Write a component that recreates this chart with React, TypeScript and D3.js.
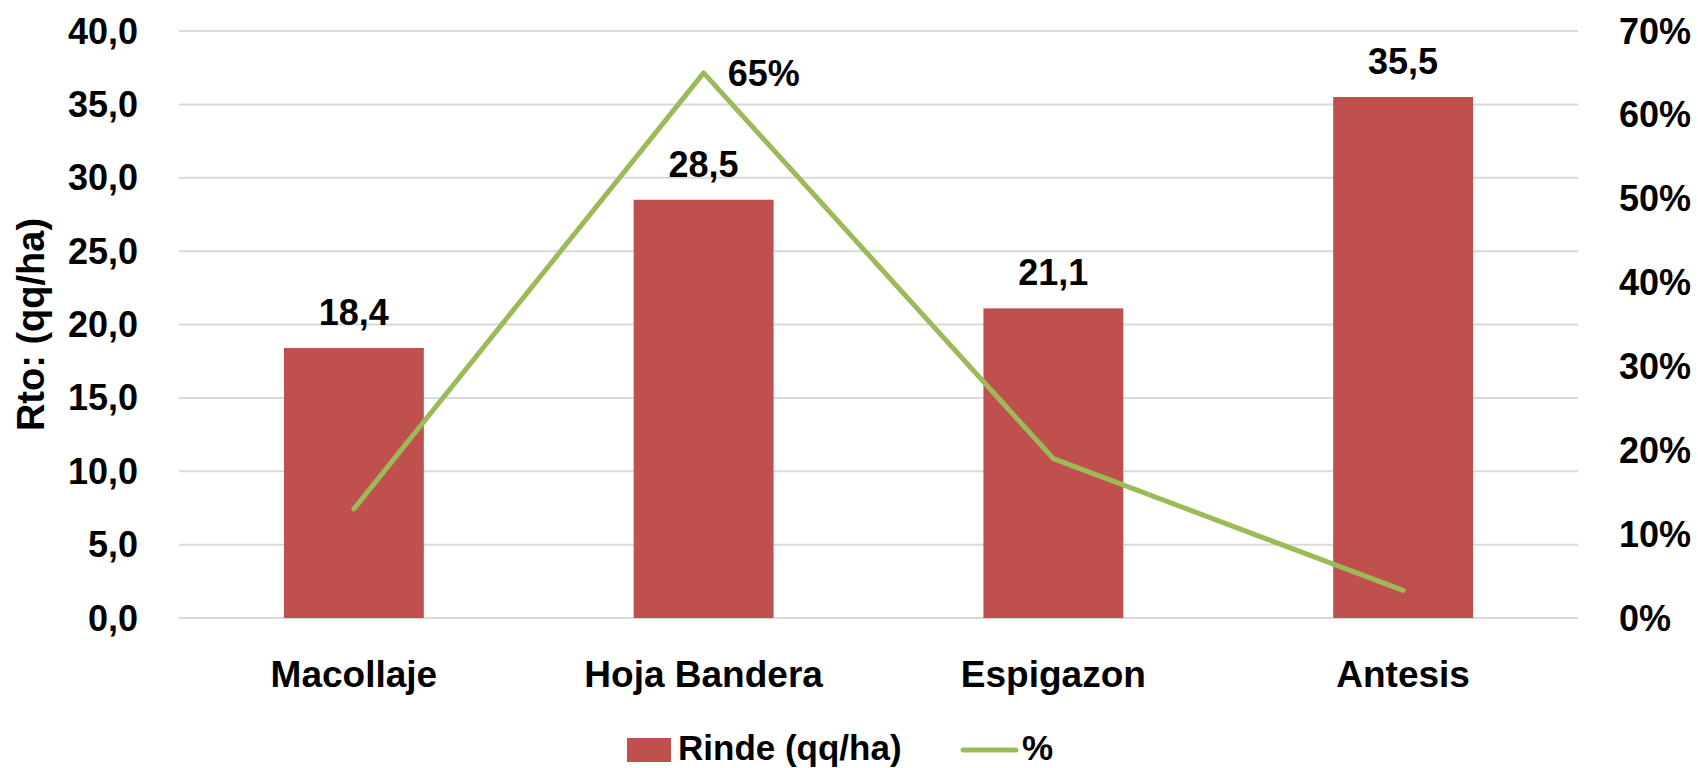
import React, { useRef, useEffect } from 'react';
import { select, scaleLinear, scaleBand, line } from "d3";

const categories = ['Macollaje', 'Hoja Bandera', 'Espigazon', 'Antesis'];
const rinde = [18.4, 28.5, 21.1, 35.5];
const pct = [13, 65, 19, 3.3];
const leftTicks = [0, 5, 10, 15, 20, 25, 30, 35, 40];
const rightTicks = [0, 10, 20, 30, 40, 50, 60, 70];

function App() {
  const rootRef = useRef<SVGSVGElement>(null);
  const width = 1698;
  const height = 768;
  const margin = ({top: 31, right: 120, bottom: 150, left: 179});
  const font = "'Liberation Sans', Arial, sans-serif";

  useEffect(() => {
    const root = select(rootRef.current);
    root.selectAll('*').remove();

    const xScale = scaleBand()
      .domain(categories)
      .range([margin.left, width - margin.right])
      .paddingInner(0.6)
      .paddingOuter(0.3);

    const yScale = scaleLinear()
      .domain([0, 40])
      .range([height - margin.bottom, margin.top]);

    const y2Scale = scaleLinear()
      .domain([0, 70])
      .range([height - margin.bottom, margin.top]);

    // gridlines
    root.append('g').selectAll('line')
      .data(leftTicks)
      .enter().append('line')
      .attr('x1', margin.left)
      .attr('x2', width - margin.right)
      .attr('y1', d => yScale(d))
      .attr('y2', d => yScale(d))
      .attr('stroke', '#d9d9d9')
      .attr('stroke-width', 2);

    // left tick labels
    root.append('g').selectAll('text')
      .data(leftTicks)
      .enter().append('text')
      .attr('x', 138)
      .attr('y', d => yScale(d))
      .attr('dy', '0.35em')
      .attr('text-anchor', 'end')
      .style('font', `bold 36px ${font}`)
      .text(d => d.toFixed(1).replace('.', ','));

    // right tick labels
    root.append('g').selectAll('text')
      .data(rightTicks)
      .enter().append('text')
      .attr('x', 1619)
      .attr('y', d => y2Scale(d))
      .attr('dy', '0.35em')
      .attr('text-anchor', 'start')
      .style('font', `bold 36px ${font}`)
      .text(d => d + '%');

    // axis title
    root.append('text')
      .attr('transform', `translate(44,${(margin.top + height - margin.bottom) / 2}) rotate(-90)`)
      .attr('text-anchor', 'middle')
      .style('font', `bold 38px ${font}`)
      .text('Rto: (qq/ha)');

    // bars
    const bars = root.append('g').selectAll('g')
      .data(categories)
      .enter().append('g');

    bars.append('rect')
      .attr('x', d => xScale(d)!)
      .attr('y', (d, i) => yScale(rinde[i]))
      .attr('width', xScale.bandwidth())
      .attr('height', (d, i) => yScale(0) - yScale(rinde[i]))
      .attr('fill', '#c0504d');

    bars.append('text')
      .attr('x', d => xScale(d)! + xScale.bandwidth() / 2)
      .attr('y', (d, i) => yScale(rinde[i]) - 23)
      .attr('text-anchor', 'middle')
      .style('font', `bold 36px ${font}`)
      .text((d, i) => rinde[i].toFixed(1).replace('.', ','));

    // category labels
    root.append('g').selectAll('text')
      .data(categories)
      .enter().append('text')
      .attr('x', d => xScale(d)! + xScale.bandwidth() / 2)
      .attr('y', 687)
      .attr('text-anchor', 'middle')
      .style('font', `bold 37px ${font}`)
      .text(d => d);

    // percent line
    const pctLine = line<number>()
      .x((d, i) => xScale(categories[i])! + xScale.bandwidth() / 2)
      .y(d => y2Scale(d));

    root.append('path')
      .datum(pct)
      .attr('d', pctLine)
      .attr('fill', 'none')
      .attr('stroke', '#9bbb59')
      .attr('stroke-width', 5)
      .attr('stroke-linecap', 'round')
      .attr('stroke-linejoin', 'round');

    // only the peak is labelled
    root.append('text')
      .attr('x', xScale(categories[1])! + xScale.bandwidth() / 2 + 24)
      .attr('y', y2Scale(pct[1]) + 13)
      .style('font', `bold 36px ${font}`)
      .text(pct[1] + '%');

    // legend
    const legend = root.append('g');
    legend.append('rect')
      .attr('x', 627).attr('y', 738)
      .attr('width', 44).attr('height', 24)
      .attr('fill', '#c0504d');
    legend.append('text')
      .attr('x', 678).attr('y', 760)
      .style('font', `bold 35px ${font}`)
      .text('Rinde (qq/ha)');
    legend.append('line')
      .attr('x1', 963).attr('x2', 1016)
      .attr('y1', 750).attr('y2', 750)
      .attr('stroke', '#9bbb59')
      .attr('stroke-width', 5)
      .attr('stroke-linecap', 'round');
    legend.append('text')
      .attr('x', 1022).attr('y', 760)
      .style('font', `bold 35px ${font}`)
      .text('%');
  }, []);

  return (
    <svg ref={rootRef} width={width} height={height}
      style={{position: 'absolute', left: 0, top: 0, background: '#fff'}}></svg>
  );
}

export default App;
